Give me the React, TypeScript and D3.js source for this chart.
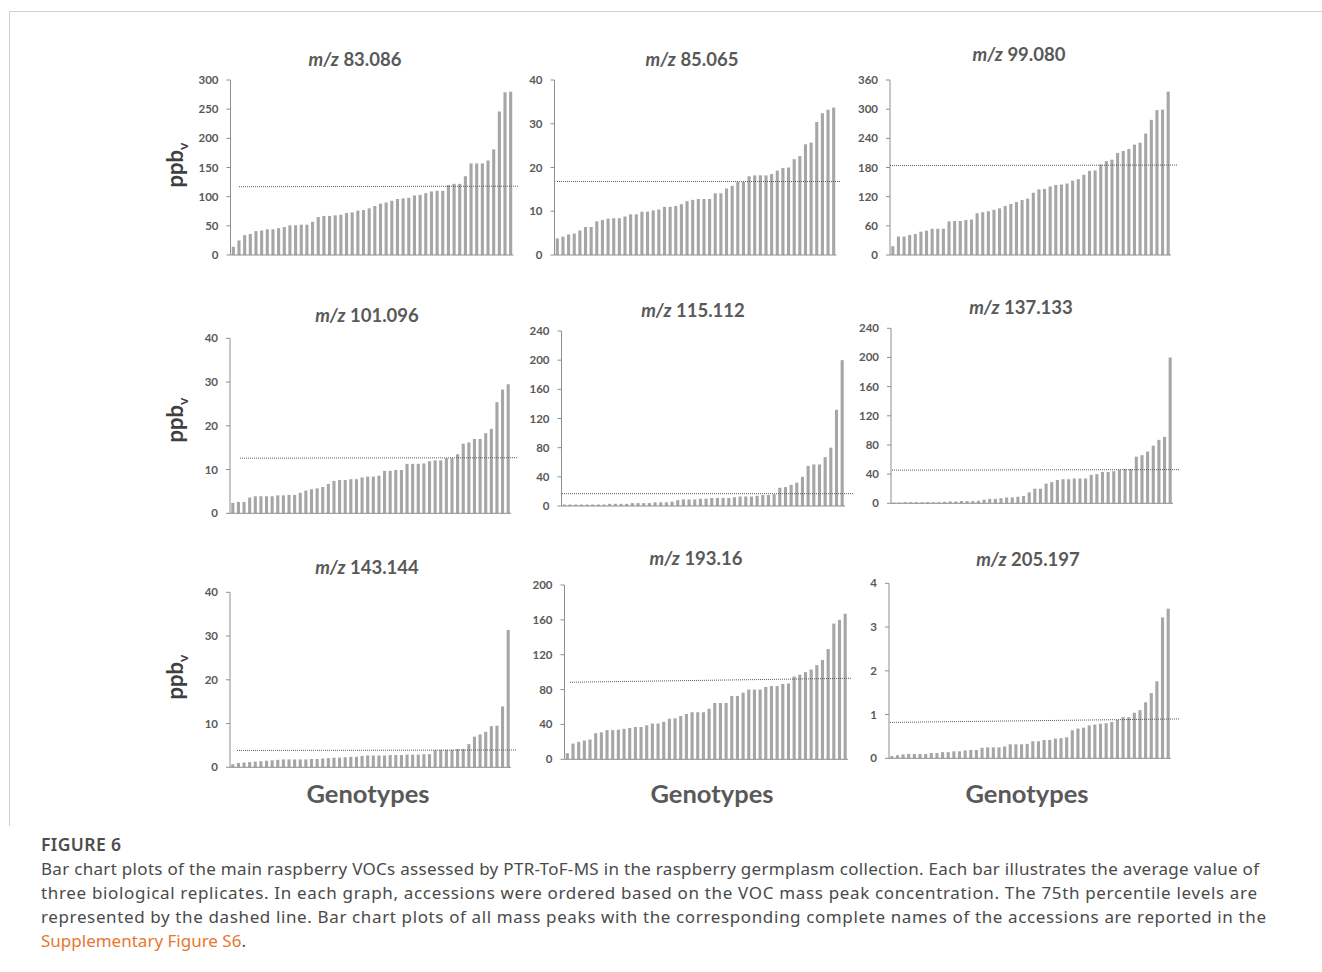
import React from "react";
import * as d3 from "d3";

// ---------- DATA ----------
const titles = ["83.086", "85.065", "99.080", "101.096", "115.112", "137.133", "143.144", "193.16", "205.197"];

const mz83 = [14, 25, 34, 36, 41, 42, 44, 44, 46, 48, 51, 51, 52, 52, 57, 65, 67, 67, 68, 69, 72, 73, 76, 77, 80, 84, 88, 90, 93, 96, 97, 98, 102, 103, 106, 109, 110, 110, 120, 122, 122, 135, 157, 157, 157, 162, 181, 246, 279, 280];
const mz85 = [3.8, 4.2, 4.7, 4.9, 5.6, 6.4, 6.4, 7.7, 8.0, 8.3, 8.4, 8.4, 8.8, 9.3, 9.3, 9.9, 9.9, 10.2, 10.4, 11.0, 11.0, 11.2, 11.6, 12.3, 12.6, 12.8, 12.8, 12.8, 14.1, 14.1, 15.2, 15.8, 16.7, 16.7, 18.0, 18.2, 18.2, 18.2, 18.5, 19.3, 19.9, 20.0, 21.9, 22.6, 25.3, 25.7, 30.4, 32.4, 33.2, 33.7];
const mz99 = [18, 38, 38, 41, 43, 48, 50, 54, 54, 54, 69, 70, 70, 72, 73, 86, 88, 90, 93, 96, 101, 105, 109, 113, 116, 128, 135, 136, 141, 144, 145, 147, 153, 156, 165, 173, 174, 186, 193, 196, 210, 214, 218, 227, 231, 250, 278, 298, 299, 336];
const mz101 = [2.4, 2.6, 2.6, 3.6, 3.9, 3.9, 3.9, 3.9, 4.1, 4.1, 4.2, 4.2, 4.7, 5.2, 5.5, 5.7, 6.0, 6.7, 7.4, 7.6, 7.6, 7.8, 7.8, 8.2, 8.4, 8.4, 8.6, 9.7, 9.7, 9.9, 9.9, 11.3, 11.3, 11.3, 11.4, 11.9, 12.1, 12.1, 12.6, 12.6, 13.5, 15.9, 16.2, 17.0, 17.0, 18.3, 19.3, 25.4, 28.3, 29.5];
const mz115 = [2, 2, 2, 2, 2, 2, 2, 2, 3, 3, 3, 3, 4, 4, 4, 4, 5, 5, 5, 6, 8, 9, 9, 9, 10, 10, 11, 11, 11, 11, 12, 13, 13, 13, 14, 15, 15, 16, 25, 26, 29, 32, 40, 55, 57, 57, 67, 80, 132, 200];
const mz137 = [1, 1, 1.5, 1.5, 1.5, 1.5, 1.5, 1.5, 1.5, 2, 2.5, 2.5, 3, 3, 3, 3.5, 5, 6, 6, 7, 8, 8, 9, 10, 15, 20, 20, 27, 29, 32, 33, 33, 34, 34, 34, 39, 40, 43, 43, 44, 46, 47, 47, 64, 66, 71, 79, 87, 91, 200];
const mz143 = [0.7, 1.0, 1.1, 1.2, 1.3, 1.4, 1.5, 1.6, 1.7, 1.8, 1.8, 1.8, 1.8, 1.8, 1.9, 1.9, 2.0, 2.1, 2.2, 2.2, 2.3, 2.4, 2.4, 2.6, 2.7, 2.7, 2.7, 2.7, 2.8, 2.8, 2.8, 2.9, 2.9, 2.9, 3.0, 3.0, 3.9, 4.0, 4.0, 4.0, 4.2, 4.2, 5.3, 7.0, 7.5, 8.1, 9.4, 9.5, 13.9, 31.4];
const mz193 = [7, 18, 20, 21.5, 22.7, 30, 31, 33.5, 33.5, 34, 35, 36, 37, 37, 39, 41, 41, 43, 46.5, 47, 49.6, 52, 54, 54, 54, 58, 64.6, 64.6, 64.6, 72.7, 72.7, 76.5, 80, 80, 80, 83, 84, 84, 86.5, 87, 95, 97, 100, 103, 108, 114, 126.5, 155.7, 160, 167];
const mz205 = [0.05, 0.07, 0.09, 0.1, 0.1, 0.1, 0.1, 0.12, 0.12, 0.14, 0.14, 0.16, 0.16, 0.18, 0.19, 0.19, 0.24, 0.25, 0.25, 0.25, 0.27, 0.32, 0.32, 0.32, 0.33, 0.39, 0.39, 0.42, 0.42, 0.45, 0.46, 0.48, 0.64, 0.68, 0.7, 0.75, 0.77, 0.79, 0.8, 0.83, 0.88, 0.94, 0.94, 1.04, 1.1, 1.28, 1.49, 1.76, 3.22, 3.42];

const seriesValues = [mz83, mz85, mz99, mz101, mz115, mz137, mz143, mz193, mz205];
const yMaxima = [300, 40, 360, 40, 240, 240, 40, 200, 4];
const yTickSteps = [50, 10, 60, 10, 40, 40, 10, 40, 1];
// 75th percentile (dashed line) value at its left and right ends
const pct75Left = [117, 16.8, 184, 12.6, 16.9, 45.5, 3.85, 88.4, 0.82];
const pct75Right = [118, 16.8, 185, 12.7, 16.9, 46.2, 3.95, 93, 0.9];

const yLabel = "ppb";
const xLabel = "Genotypes";
const figureLabel = "FIGURE 6";
const captionLines = [
  "Bar chart plots of the main raspberry VOCs assessed by PTR-ToF-MS in the raspberry germplasm collection. Each bar illustrates the average value of",
  "three biological replicates. In each graph, accessions were ordered based on the VOC mass peak concentration. The 75th percentile levels are",
  "represented by the dashed line. Bar chart plots of all mass peaks with the corresponding complete names of the accessions are reported in the",
];
const captionLink = "Supplementary Figure S6";

// ---------- LAYOUT ----------
const layout = [
  { x0: 230.5, w: 283, top: 80, bottom: 255, tx: 355, ty: 66, lx0: 239, lx1: 518 },
  { x0: 554.5, w: 282, top: 80, bottom: 255, tx: 692, ty: 66, lx0: 557, lx1: 840 },
  { x0: 890, w: 281, top: 80, bottom: 255, tx: 1019, ty: 61, lx0: 890, lx1: 1178 },
  { x0: 230, w: 281, top: 338.3, bottom: 513.3, tx: 367, ty: 322, lx0: 240, lx1: 518 },
  { x0: 561.5, w: 283.5, top: 331, bottom: 506, tx: 693, ty: 317, lx0: 562, lx1: 853 },
  { x0: 891, w: 282, top: 328.3, bottom: 503.3, tx: 1021, ty: 314, lx0: 892, lx1: 1180 },
  { x0: 230, w: 281, top: 592.3, bottom: 767.3, tx: 367, ty: 574, lx0: 237, lx1: 517 },
  { x0: 564.5, w: 283.5, top: 585, bottom: 759.3, tx: 696, ty: 565, lx0: 570, lx1: 851 },
  { x0: 889, w: 282, top: 583.3, bottom: 758.3, tx: 1028, ty: 566, lx0: 890, lx1: 1180 },
];
const yLabelCenters = [165, 420, 677];
const xLabelCenters = [368, 712, 1027];

const chartFont = "Lato, 'Open Sans', sans-serif";
const captionFont = "'Noto Sans', 'Open Sans', sans-serif";
const barColor = "#a6a6a6";
const axisColor = "#8f8f8f";
const textGray = "#595959";

function Panel({ i }: { i: number }) {
  const L = layout[i];
  const vals = seriesValues[i];
  const x = d3
    .scaleBand<number>()
    .domain(d3.range(vals.length))
    .range([L.x0, L.x0 + L.w])
    .paddingInner(0.45)
    .paddingOuter(0.225);
  const y = d3.scaleLinear().domain([0, yMaxima[i]]).range([L.bottom, L.top]);
  const ticks = d3.range(0, yMaxima[i] + yTickSteps[i] / 2, yTickSteps[i]);
  return (
    <g>
      {vals.map((v, k) => (
        <rect key={k} x={x(k)} width={x.bandwidth()} y={y(v)} height={L.bottom - y(v)} fill={barColor} />
      ))}
      <line x1={L.x0} x2={L.x0} y1={L.top} y2={L.bottom} stroke={axisColor} strokeWidth={1} />
      <line x1={L.x0} x2={L.x0 + L.w} y1={L.bottom} y2={L.bottom} stroke={axisColor} strokeWidth={1} />
      {ticks.map((t) => (
        <g key={t}>
          <line x1={L.x0 - 4} x2={L.x0} y1={y(t)} y2={y(t)} stroke={axisColor} />
          <text
            x={L.x0 - 12}
            y={y(t)}
            dy="0.35em"
            textAnchor="end"
            fontFamily={chartFont}
            fontWeight={700}
            fontSize={11.5}
            fill={textGray}
          >
            {d3.format("~g")(t)}
          </text>
        </g>
      ))}
      <line
        x1={L.lx0}
        x2={L.lx1}
        y1={y(pct75Left[i])}
        y2={y(pct75Right[i])}
        stroke="#5a5a5a"
        strokeWidth={1}
        strokeDasharray="1 1"
      />
      <text x={L.tx} y={L.ty} textAnchor="middle" fontFamily={chartFont} fontWeight={700} fontSize={18.5} fill={textGray}>
        <tspan fontStyle="italic">m/z</tspan>
        <tspan> {titles[i]}</tspan>
      </text>
    </g>
  );
}

export default function App() {
  return (
    <svg
      width={1322}
      height={972}
      style={{ position: "absolute", left: 0, top: 0, display: "block", background: "#fff" }}
    >
      <rect x={0} y={0} width={1322} height={972} fill="#fff" />
      <line x1={9.5} x2={1322} y1={11.5} y2={11.5} stroke="#cfcfcf" />
      <line x1={9.5} x2={9.5} y1={11.5} y2={826} stroke="#cfcfcf" />
      {layout.map((_, i) => (
        <Panel key={i} i={i} />
      ))}
      {yLabelCenters.map((cy, r) => (
        <text
          key={r}
          transform={`translate(183,${cy}) rotate(-90)`}
          textAnchor="middle"
          fontFamily={chartFont}
          fontWeight={700}
          fontSize={22}
          fill="#404040"
        >
          {yLabel}
          <tspan fontSize={14} dy={5}>v</tspan>
        </text>
      ))}
      {xLabelCenters.map((cx, c) => (
        <text key={c} x={cx} y={803} textAnchor="middle" fontFamily={chartFont} fontWeight={700} fontSize={25.5} fill={textGray}>
          {xLabel}
        </text>
      ))}
      <text x={41} y={851} fontFamily={captionFont} fontSize={17.5} fontWeight={600} fill="#4d4d4d" letterSpacing={0.4}>
        {figureLabel}
      </text>
      {captionLines.map((line, k) => (
        <text
          key={k}
          x={41}
          y={875 + k * 24}
          fontFamily={captionFont}
          fontSize={17}
          fill="#4a4a4a"
          textLength={k === 0 ? 1218 : k === 1 ? 1216 : 1225}
          lengthAdjust="spacing"
        >
          {line}
        </text>
      ))}
      <text x={41} y={947} fontFamily={captionFont} fontSize={17} fill="#4a4a4a">
        <tspan fill="#e8772e">{captionLink}</tspan>
        <tspan>.</tspan>
      </text>
    </svg>
  );
}
